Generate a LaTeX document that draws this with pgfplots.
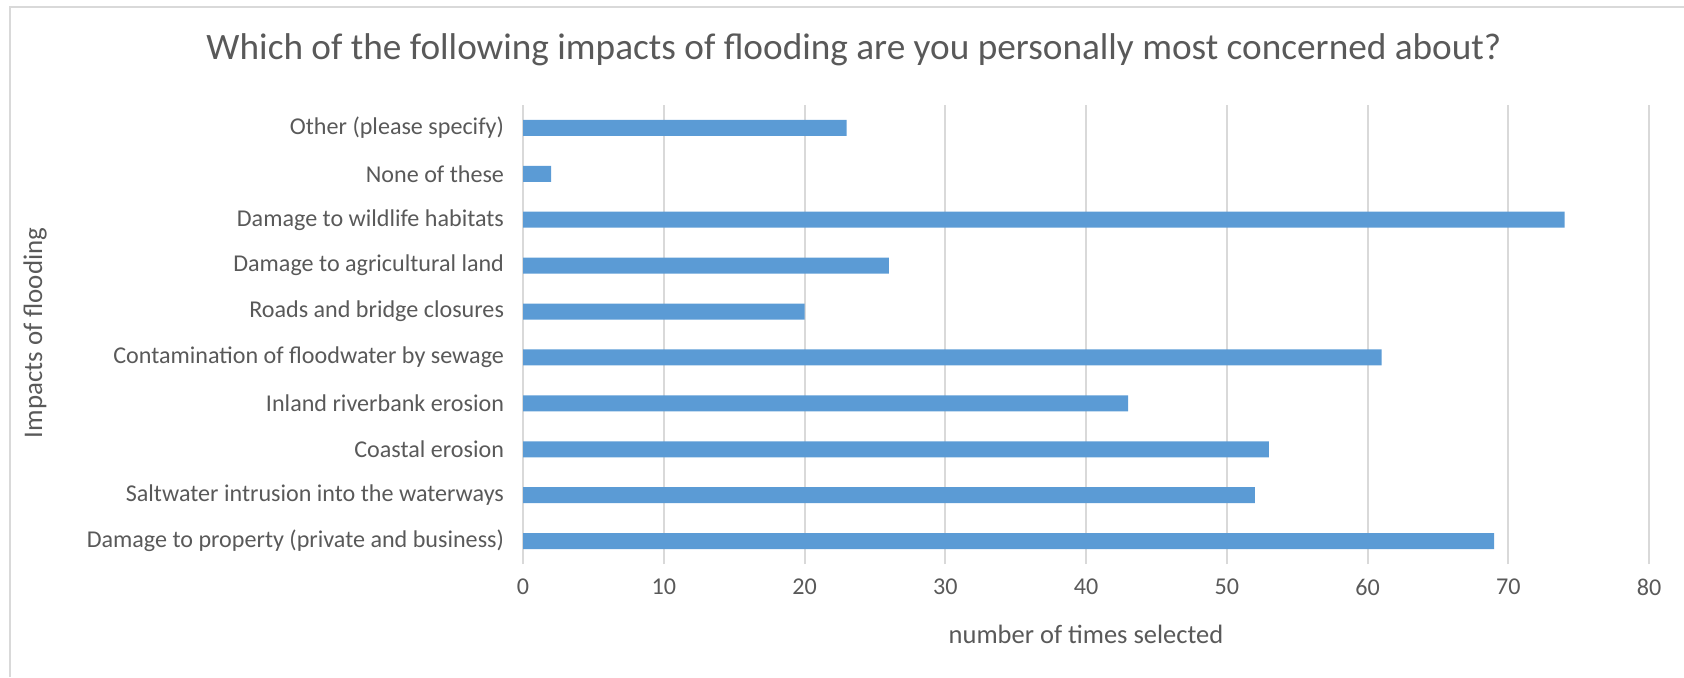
\documentclass[border=0pt]{standalone}
\usepackage{pgfplots}
\pgfplotsset{compat=1.18}
\usepackage{fontspec}
\setmainfont{Carlito}
\definecolor{barblue}{HTML}{5B9BD5}
\definecolor{gridgray}{HTML}{D9D9D9}
\definecolor{txtgray}{HTML}{595959}

\begin{document}
\begin{tikzpicture}[x=1bp,y=1bp]
% page frame
\path[use as bounding box] (0,0) rectangle (842,338.5);
\draw[gridgray, line width=1.2bp] (5,0) -- (5,335) -- (842,335);

\begin{axis}[
  at={(261.5bp,56.5bp)}, anchor=south west,
  scale only axis,
  width=563bp, height=229.5bp,
  xbar, bar width=8bp,
  xmin=0, xmax=80,
  xtick={0,10,...,80},
  ymin=-0.5, ymax=9.5,
  ytick={0,...,9},
  yticklabels={
    Damage to property (private and business),
    Saltwater intrusion into the waterways,
    Coastal erosion,
    Inland riverbank erosion,
    Contamination of floodwater by sewage,
    Roads and bridge closures,
    Damage to agricultural land,
    Damage to wildlife habitats,
    None of these,
    Other (please specify)},
  axis line style={draw=none},
  major tick length=0pt,
  xmajorgrids, major grid style={gridgray, line width=1bp},
  ymajorgrids=false,
  tick label style={font=\fontsize{12.1}{14}\selectfont, text=txtgray},
  /pgf/number format/assume math mode=true,
  xticklabel style={yshift=-4bp},
  yticklabel style={xshift=-6bp},
  clip=false,
]
\addplot[fill=barblue, draw=none] coordinates {
  (69,0) (52,1) (53,2) (43,3) (61,4) (20,5) (26,6) (74,7) (2,8) (23,9)
};
\end{axis}

\node[text=txtgray, font=\fontsize{18.7}{22}\selectfont] at (427,313.5) {Which of the following impacts of flooding are you personally most concerned about?};
\node[text=txtgray, font=\fontsize{13.3}{16}\selectfont] at (543,21.5) {number of times selected};
\node[text=txtgray, font=\fontsize{13.5}{16}\selectfont, rotate=90] at (17.5,172) {Impacts of flooding};
\end{tikzpicture}
\end{document}
